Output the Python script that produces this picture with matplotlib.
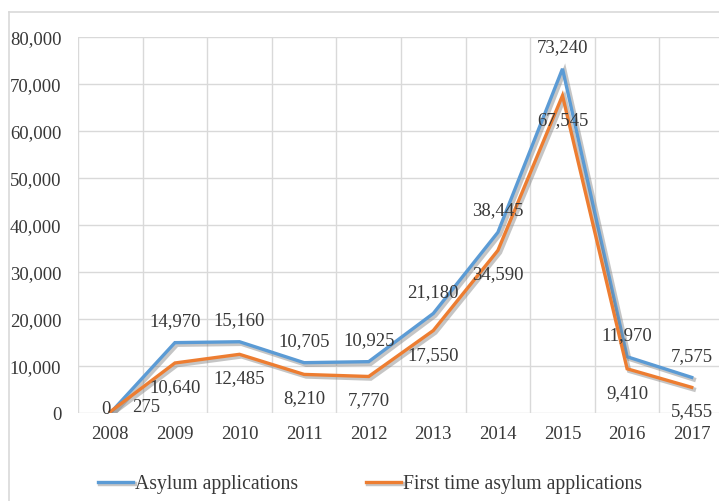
import matplotlib
matplotlib.use("Agg")
import matplotlib.pyplot as plt
import matplotlib.patheffects as pe
from matplotlib.lines import Line2D
import numpy as np

# data
years = ["2008", "2009", "2010", "2011", "2012", "2013", "2014", "2015", "2016", "2017"]
asylum = [0, 14970, 15160, 10705, 10925, 21180, 38445, 73240, 11970, 7575]
first_time = [275, 10640, 12485, 8210, 7770, 17550, 34590, 67545, 9410, 5455]
y_ticks = [0, 10000, 20000, 30000, 40000, 50000, 60000, 70000, 80000]

BLUE = "#5B9BD5"
ORANGE = "#ED7D31"
TXT = "#383838"
GRID = "#d9d9d9"

plt.rcParams['font.family'] = ['Liberation Serif', 'DejaVu Serif']
FS = 13.5

fig = plt.figure(figsize=(7.19, 5.02), dpi=100)
# plot area runs past the right edge like in the cropped original
ax = fig.add_axes([78 / 719, 88 / 502, 646 / 719, 376 / 502])

x = np.arange(len(years))
shadow = [pe.SimpleLineShadow(offset=(1.5, -1.5), shadow_color="#808080", alpha=0.45, linewidth=3.2),
          pe.Normal()]
ax.plot(x, asylum, color=BLUE, lw=2.4, solid_joinstyle="miter", path_effects=shadow,
        label="Asylum applications", zorder=3)
ax.plot(x, first_time, color=ORANGE, lw=2.4, solid_joinstyle="miter", path_effects=shadow,
        label="First time asylum applications", zorder=3)

# data labels: blue above, orange below (first two hand-moved, as in the original)
for i, v in enumerate(asylum):
    off = (-3, 3) if i == 0 else (0, 16)
    ax.annotate(f"{v:,}", (x[i], v), xytext=off, textcoords="offset points",
                ha="center", va="center", fontsize=FS, color=TXT, zorder=4)
for i, v in enumerate(first_time):
    off = (26, 4) if i == 0 else (0, -17)
    ax.annotate(f"{v:,}", (x[i], v), xytext=off, textcoords="offset points",
                ha="center", va="center", fontsize=FS, color=TXT, zorder=4)

ax.set_xlim(-0.5, len(years) - 0.5)
ax.set_ylim(0, 80000)
ax.set_yticks(y_ticks)
ax.set_yticklabels([f"{t:,}" for t in y_ticks])
ax.set_xticks(x)
ax.set_xticklabels(years)
ax.set_xticks(np.arange(-0.5, len(years), 1), minor=True)
ax.tick_params(axis="both", which="both", length=0, labelsize=FS, colors=TXT)
ax.tick_params(axis="y", pad=12)
ax.tick_params(axis="x", pad=9)
ax.grid(axis="y", which="major", color=GRID, lw=1)
ax.grid(axis="x", which="minor", color=GRID, lw=1)
for s in ax.spines.values():
    s.set_visible(False)
ax.set_axisbelow(True)

leg = fig.legend(loc="center", bbox_to_anchor=(370 / 719, 1 - 485 / 502), ncol=2, frameon=False,
                 prop={'size': 14.2}, handlelength=1.8, handletextpad=0.1, columnspacing=3.4)
for t in leg.get_texts():
    t.set_color(TXT)

# faint chart-area border (top and left only, rest is cropped)
fig.add_artist(Line2D([9 / 719, 1], [1 - 13 / 502, 1 - 13 / 502], color=GRID, lw=1.2,
                      transform=fig.transFigure))
fig.add_artist(Line2D([9 / 719, 9 / 719], [0, 1 - 13 / 502], color=GRID, lw=1.2,
                      transform=fig.transFigure))

fig.savefig("out.png", dpi=100)
